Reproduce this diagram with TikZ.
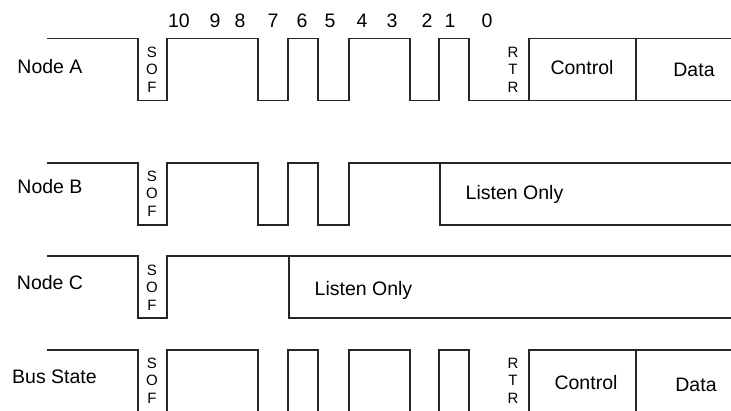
\documentclass[tikz,border=0pt]{standalone}
\usepackage{fontspec}
\setmainfont{Liberation Sans}
\usetikzlibrary{positioning}
\tikzset{
  sig/.style   ={line width=1.2pt, draw=black!85, line join=miter},
  lbl/.style   ={font=\fontsize{19.5}{22}\selectfont, inner sep=0pt,
                 text height=14pt, text depth=0pt},
  bitnum/.style={lbl},
  vtxt/.style  ={font=\fontsize{15}{17.5}\selectfont, align=center,
                 inner sep=0pt},
}

\begin{document}
\begin{tikzpicture}[x=1pt,y=-1pt]
  \useasboundingbox (0,0) rectangle (731,411);

  % bit numbers of the identifier
  \foreach \b/\x in {10/179,9/215,8/240,7/273,6/302,5/330,4/362,3/392,2/427,1/450,0/487}
    \node[bitnum] (bit\b) at (\x,21) {\b};

  % Node A
  \begin{scope}[shift={(0,38.5)}]
    \draw[sig] (47,0) -- (138,0) -- (138,62) -- (167,62) -- (167,0) -- (258,0)
      -- (258,62) -- (288,62) -- (288,0) -- (318,0) -- (318,62) -- (349,62)
      -- (349,0) -- (410,0) -- (410,62) -- (439,62) -- (439,0) -- (469,0)
      -- (469,62) -- (731,62);
    \draw[sig] (529,62) -- (529,0) -- (731,0);
    \draw[sig] (636,0) -- (636,62);
  \end{scope}
  \node[lbl] (nodeA) at (50,67) {Node A};
  \node[vtxt] (sofA) at (152,69.5) {S\\O\\F};
  \node[vtxt] (rtrA) at (513,69.5) {R\\T\\R};
  \node[lbl] (ctrlA) at (582,68) {Control};
  \node[lbl] (dataA) at (694,70) {Data};

  % Node B
  \begin{scope}[shift={(0,163)}]
    \draw[sig] (47,0) -- (138,0) -- (138,62) -- (167,62) -- (167,0) -- (258,0)
      -- (258,62) -- (288,62) -- (288,0) -- (318,0) -- (318,62) -- (349,62)
      -- (349,0) -- (731,0);
    \draw[sig] (440,0) -- (440,62) -- (731,62);
  \end{scope}
  \node[lbl] (nodeB) at (50,187) {Node B};
  \node[vtxt] (sofB) at (152,193.5) {S\\O\\F};
  \node[lbl] (listenB) at (514.5,193) {Listen Only};

  % Node C
  \begin{scope}[shift={(0,256)}]
    \draw[sig] (47,0) -- (138,0) -- (138,62) -- (167,62) -- (167,0) -- (731,0);
    \draw[sig] (289,0) -- (289,62) -- (731,62);
  \end{scope}
  \node[lbl] (nodeC) at (50,283) {Node C};
  \node[vtxt] (sofC) at (152,287.5) {S\\O\\F};
  \node[lbl] (listenC) at (363.5,289) {Listen Only};

  % Bus State
  \begin{scope}[shift={(0,350)}]
    \draw[sig] (47,0) -- (138,0) -- (138,62);
    \foreach \l/\r in {167/258,288/318,349/410,439/469}
      \draw[sig] (\l,62) -- (\l,0) -- (\r,0) -- (\r,62);
    \draw[sig] (529,62) -- (529,0) -- (731,0);
    \draw[sig] (636,0) -- (636,62);
  \end{scope}
  \node[lbl] (busState) at (54.5,377) {Bus State};
  \node[vtxt] (sofBus) at (152,380.5) {S\\O\\F};
  \node[vtxt] (rtrBus) at (513,380.5) {R\\T\\R};
  \node[lbl] (ctrlBus) at (586,383) {Control};
  \node[lbl] (dataBus) at (696,385) {Data};
\end{tikzpicture}
\end{document}
